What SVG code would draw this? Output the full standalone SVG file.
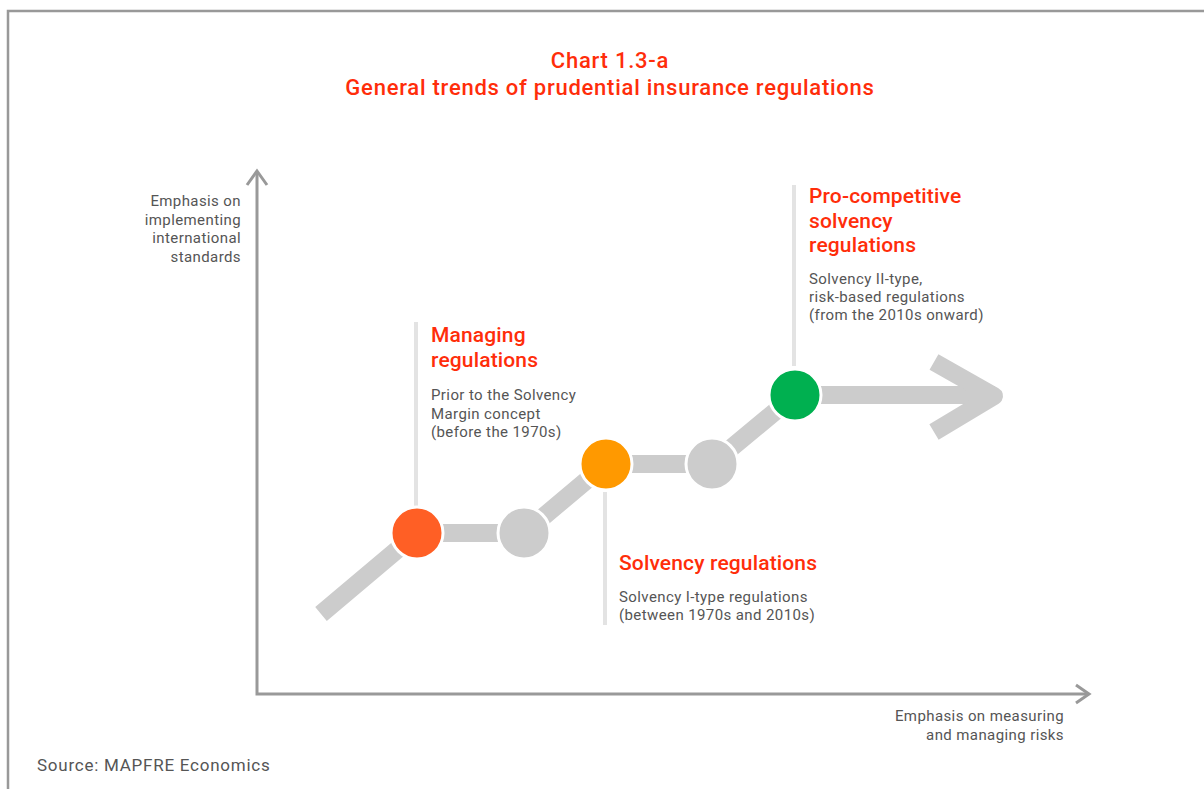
<svg xmlns="http://www.w3.org/2000/svg" width="1204" height="789" viewBox="0 0 1204 789">
  <style>
    .title { font-family: Roboto, "Liberation Sans", sans-serif; font-size: 22px; font-weight: 500; letter-spacing: 0.75px; fill: #ff2d0a; text-anchor: middle; }
    .head { font-family: Roboto, "Liberation Sans", sans-serif; font-size: 21px; font-weight: 500; letter-spacing: 0.15px; fill: #ff2d0a; }
    .desc { font-family: Roboto, "Liberation Sans", sans-serif; font-size: 15px; letter-spacing: 0.4px; fill: #555555; }
    .axis-label { font-family: Roboto, "Liberation Sans", sans-serif; font-size: 15px; letter-spacing: 0.4px; fill: #555555; text-anchor: end; }
    .source { font-family: Roboto, "Liberation Sans", sans-serif; font-size: 17px; letter-spacing: 0.75px; fill: #555555; }
    .axis { stroke: #999999; stroke-width: 3; fill: none; }
    .track { stroke: #cccccc; stroke-width: 18; fill: none; }
    .stem { stroke: #e3e3e3; stroke-width: 4; }
    .dot { stroke: #ffffff; stroke-width: 3; }
  </style>

  <!-- frame -->
  <path d="M8 789 V11 H1204" fill="none" stroke="#999999" stroke-width="2.5"/>

  <!-- title -->
  <g id="title">
    <text class="title" x="610" y="68">Chart 1.3-a</text>
    <text class="title" x="610" y="95">General trends of prudential insurance regulations</text>
  </g>

  <!-- axes -->
  <g id="axes">
    <path class="axis" d="M257 172 V694 H1088"/>
    <path class="axis" d="M247 185 L257 171 L267 185"/>
    <path class="axis" d="M1076 685 L1089 694 L1076 703"/>
    <text class="axis-label" x="241" y="206">Emphasis on</text>
    <text class="axis-label" x="241" y="225">implementing</text>
    <text class="axis-label" x="241" y="243">international</text>
    <text class="axis-label" x="241" y="262">standards</text>
    <text class="axis-label" x="1064" y="721">Emphasis on measuring</text>
    <text class="axis-label" x="1064" y="740">and managing risks</text>
  </g>

  <!-- connectors: trend track and label stems -->
  <g id="connectors">
    <line class="stem" x1="416" y1="322" x2="416" y2="506"/>
    <line class="stem" x1="605" y1="492" x2="605" y2="625"/>
    <line class="stem" x1="794" y1="185" x2="794" y2="366"/>
    <path class="track" d="M321 614 L417 533 H524 L606 464 H712 L795 395 H995"/>
    <path class="track" stroke-linejoin="round" d="M934 362 L994 396 L934 432"/>
  </g>

  <!-- milestones -->
  <g id="node-managing">
    <circle class="dot" cx="417" cy="533" r="26" fill="#ff5f25"/>
    <text class="head" x="431" y="342">Managing</text>
    <text class="head" x="431" y="367">regulations</text>
    <text class="desc" x="431" y="400">Prior to the Solvency</text>
    <text class="desc" x="431" y="419">Margin concept</text>
    <text class="desc" x="431" y="437">(before the 1970s)</text>
  </g>
  <g id="node-step1">
    <circle class="dot" cx="524" cy="533" r="26" fill="#cccccc"/>
  </g>
  <g id="node-solvency">
    <circle class="dot" cx="606" cy="464" r="26" fill="#ff9900"/>
    <text class="head" x="619" y="570">Solvency regulations</text>
    <text class="desc" x="619" y="602">Solvency I-type regulations</text>
    <text class="desc" x="619" y="620">(between 1970s and 2010s)</text>
  </g>
  <g id="node-step2">
    <circle class="dot" cx="712" cy="464" r="26" fill="#cccccc"/>
  </g>
  <g id="node-procompetitive">
    <circle class="dot" cx="795" cy="395" r="26" fill="#00b050"/>
    <text class="head" x="809" y="203">Pro-competitive</text>
    <text class="head" x="809" y="228">solvency</text>
    <text class="head" x="809" y="252">regulations</text>
    <text class="desc" x="809" y="284">Solvency II-type,</text>
    <text class="desc" x="809" y="302">risk-based regulations</text>
    <text class="desc" x="809" y="320">(from the 2010s onward)</text>
  </g>

  <text class="source" x="37" y="771">Source: MAPFRE Economics</text>
</svg>
